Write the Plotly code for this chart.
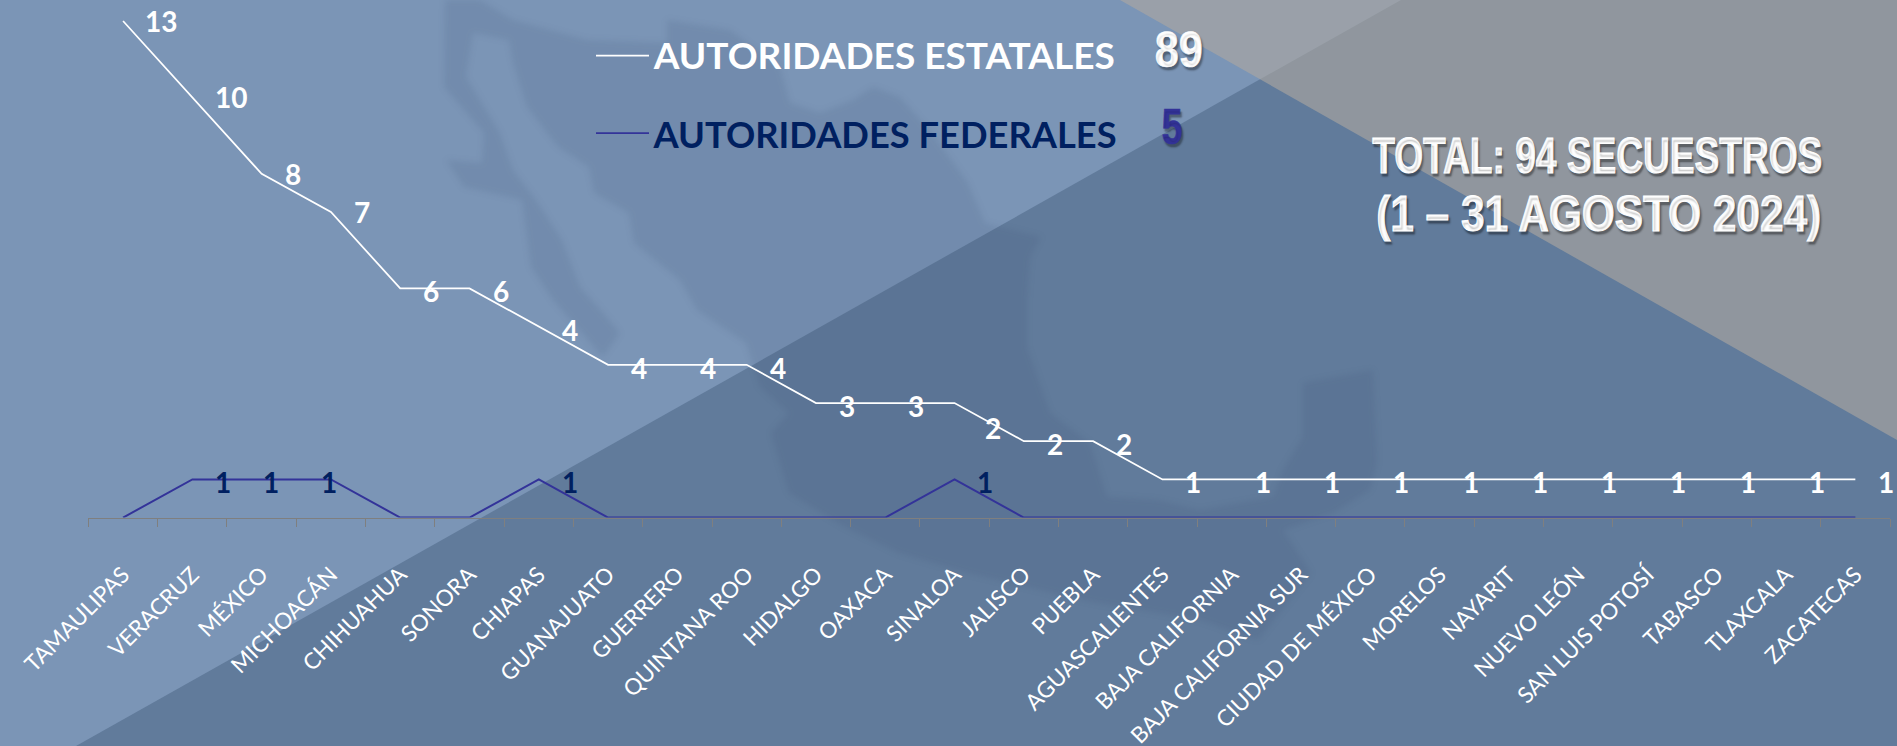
import json
import plotly.graph_objects as go

W, H = 1897, 746

estados = ["TAMAULIPAS", "VERACRUZ", "MÉXICO", "MICHOACÁN", "CHIHUAHUA", "SONORA", "CHIAPAS",
           "GUANAJUATO", "GUERRERO", "QUINTANA ROO", "HIDALGO", "OAXACA", "SINALOA", "JALISCO",
           "PUEBLA", "AGUASCALIENTES", "BAJA CALIFORNIA", "BAJA CALIFORNIA SUR", "CIUDAD DE MÉXICO",
           "MORELOS", "NAYARIT", "NUEVO LEÓN", "SAN LUIS POTOSÍ", "TABASCO", "TLAXCALA", "ZACATECAS"]
autoridades_estatales = [13, 10, 8, 7, 6, 6, 4, 4, 4, 4, 3, 3, 2, 2, 2, 1, 1, 1, 1, 1, 1, 1, 1, 1, 1, 1]
autoridades_federales = [0, 1, 1, 1, 0, 0, 1, 0, 0, 0, 0, 0, 1, 0, 0, 0, 0, 0, 0, 0, 0, 0, 0, 0, 0, 0]
total_estatales = "89"
total_federales = "5"
titulo = ["TOTAL: 94 SECUESTROS", "(1 – 31 AGOSTO 2024)"]
leyenda = ["AUTORIDADES ESTATALES", "AUTORIDADES FEDERALES"]

BLANCO = "#FFFFFF"
AZUL_LINEA = "#333399"
AZUL_TEXTO = "#002060"
FONDO = "#7B95B6"
OSCURO = "#617B9B"
SANS = "Lato, Carlito, sans-serif"
COND = "'Liberation Sans', sans-serif"
SOMBRA = "2px 3px 2px rgba(0,0,0,0.35)"

MAPA = [(445, 0), (444, 87), (484, 133), (482, 163), (446, 160), (464, 187), (522, 200), (531, 267),
        (553, 300), (603, 357), (620, 333), (598, 307), (580, 287), (562, 240), (536, 200), (513, 170),
        (500, 133), (466, 77), (473, 33), (509, 40), (513, 63), (527, 107), (558, 147), (589, 167),
        (594, 193), (629, 213), (634, 243), (680, 280), (697, 310), (746, 343), (760, 387), (789, 413),
        (771, 433), (789, 493), (845, 527), (899, 553), (968, 573), (1083, 600), (1098, 603), (1200, 620),
        (1258, 640), (1311, 573), (1283, 530), (1333, 513), (1370, 490), (1377, 463), (1373, 370),
        (1303, 383), (1303, 437), (1283, 470), (1273, 497), (1200, 510), (1157, 500), (1107, 497),
        (1090, 443), (1050, 413), (1027, 347), (1027, 300), (1030, 257), (1041, 237), (985, 223),
        (968, 183), (932, 133), (900, 97), (873, 87), (853, 100), (820, 113), (790, 103), (780, 67),
        (730, 30), (667, 20), (667, 43), (587, 40), (513, 20), (480, 0)]

# Horizontal condensing of the display texts (reference uses condensed faces not installed here)
ANCHOS = {titulo[0]: [450, 1.0], titulo[1]: [445, 1.0], total_estatales: [48, 0.6], total_federales: [21, 0.6],
          leyenda[0]: [461, 0], leyenda[1]: [463, 0]}


def px(x):
    return x / W


def py(y):
    return 1 - y / H


def poligono(puntos, color):
    ruta = "M " + " L ".join(f"{px(x):.5f},{py(y):.5f}" for x, y in puntos) + " Z"
    return dict(type="path", xref="paper", yref="paper", path=ruta, fillcolor=color,
                line=dict(width=0), layer="below")


def linea_leyenda(y, color):
    return dict(type="line", xref="paper", yref="paper", x0=px(596), x1=px(649), y0=py(y), y1=py(y),
                line=dict(color=color, width=1.75), layer="above")


def rotulo(texto, x, y, size, color, family=SANS, weight=700, anchor="center", shadow="none"):
    return dict(text=texto, xref="paper", yref="paper", x=px(x), y=py(y), showarrow=False,
                xanchor=anchor, yanchor="middle",
                font=dict(size=size, color=color, family=family, weight=weight, shadow=shadow))


fig = go.Figure()
fig.add_trace(go.Scatter(x=estados, y=autoridades_federales, name="AUTORIDADES FEDERALES", mode="lines",
                         stackgroup="uno", fill="none", line=dict(color=AZUL_LINEA, width=2)))
fig.add_trace(go.Scatter(x=estados, y=autoridades_estatales, name="AUTORIDADES ESTATALES", mode="lines",
                         stackgroup="uno", fill="none", line=dict(color=BLANCO, width=1.75)))

anotaciones = []
desp_estatal = {"TAMAULIPAS": 38, "VERACRUZ": 39, "SINALOA": 38}
desp_y_estatal = {"TAMAULIPAS": 0, "VERACRUZ": 0, "MÉXICO": 0, "MICHOACÁN": 0, "SINALOA": -25}
for nombre, est, fed in zip(estados, autoridades_estatales, autoridades_federales):
    anotaciones.append(dict(x=nombre, y=est + fed, text=str(est), showarrow=False,
                            xanchor="center", yanchor="middle",
                            xshift=desp_estatal.get(nombre, 31), yshift=desp_y_estatal.get(nombre, -3),
                            font=dict(size=28, color=BLANCO, family=SANS, weight=700)))
desp_federal = {"VERACRUZ": 31, "MÉXICO": 9, "MICHOACÁN": -2, "CHIAPAS": 31, "SINALOA": 30}
for nombre, fed in zip(estados, autoridades_federales):
    if fed:
        anotaciones.append(dict(x=nombre, y=fed, text=str(fed), showarrow=False,
                                xanchor="center", yanchor="middle",
                                xshift=desp_federal[nombre], yshift=-3,
                                font=dict(size=28, color=AZUL_TEXTO, family=SANS, weight=700)))

anotaciones += [
    rotulo(leyenda[0], 651, 55, 37, BLANCO, anchor="left"),
    rotulo(leyenda[1], 646, 133, 37, AZUL_TEXTO, anchor="left"),
    rotulo(total_estatales, 1179, 50, 50, BLANCO, family=COND, shadow=SOMBRA),
    rotulo(total_federales, 1172, 127, 50, AZUL_LINEA, family=COND, shadow=SOMBRA),
    rotulo(titulo[0], 1597, 156, 50, BLANCO, family=COND, shadow=SOMBRA),
    rotulo(titulo[1], 1598, 214, 50, BLANCO, family=COND, shadow=SOMBRA),
]

formas = [
    poligono([(76, 746), (1401, 0), (1897, 0), (1897, 746)], OSCURO),
    poligono(MAPA, "rgba(48,64,96,0.11)"),
    poligono([(1120, 0), (1897, 0), (1897, 440)], "rgba(175,169,160,0.6)"),
    linea_leyenda(55.5, BLANCO),
    linea_leyenda(133, AZUL_LINEA),
]

fig.update_layout(
    width=W, height=H, autosize=False, showlegend=False,
    margin=dict(l=0, r=0, t=0, b=0),
    paper_bgcolor=FONDO, plot_bgcolor="rgba(0,0,0,0)",
    shapes=formas, annotations=anotaciones,
    xaxis=dict(domain=[px(88.4), px(1890)], type="category", categoryorder="array", categoryarray=estados,
               range=[-0.5, 25.5], tickson="boundaries", ticks="outside", ticklen=8, tickwidth=1,
               tickcolor="#7F7F7F", showline=True, linecolor="#7F7F7F", linewidth=1, showgrid=False,
               zeroline=False, tickangle=-45, ticklabelstandoff=34,
               tickfont=dict(size=22.5, color=BLANCO, family=SANS), automargin=False),
    yaxis=dict(domain=[py(517.6), 1], range=[0, 13.55], visible=False, showgrid=False, zeroline=False,
               automargin=False),
)

post = """
document.body.style.margin='0';document.body.style.overflow='hidden';
var anchos = %s;
function ajustar(){
  document.querySelectorAll('text.annotation-text').forEach(function(t){
    var a = anchos[t.textContent];
    if(!a) return;
    t.setAttribute('textLength', a[0]);
    t.setAttribute('lengthAdjust', 'spacingAndGlyphs');
    if(a[1]){ t.style.stroke = t.style.fill; t.style.strokeWidth = a[1] + 'px'; }
  });
  var formas = document.querySelectorAll('.layer-below .shapelayer path');
  if(formas.length > 1){ formas[1].style.filter = 'blur(3px)'; }
}
ajustar(); [50,200,600,1500].forEach(function(ms){ setTimeout(ajustar, ms); });
""" % json.dumps(ANCHOS, ensure_ascii=False)

fig.write_html("out.html", config={"displayModeBar": False}, post_script=post)
